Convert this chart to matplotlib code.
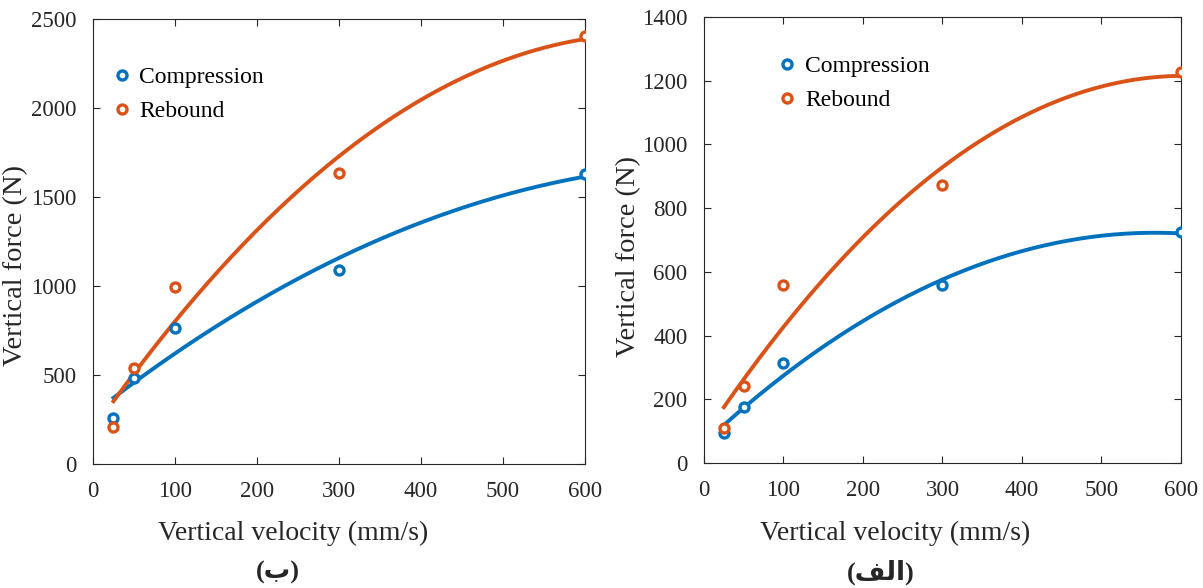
"""
Force-velocity characteristics of the damper: measured points and quadratic fits
"""
import matplotlib
matplotlib.use("Agg")
import matplotlib.pyplot as plt
import numpy as np

# measured data
velocity = [25, 50, 100, 300, 600]

# panel (ب)
comp_b = [257, 485, 764, 1088, 1628]
reb_b = [206, 538, 992, 1637, 2405]

# panel (الف)
comp_a = [93, 175, 313, 558, 724]
reb_a = [109, 243, 559, 872, 1226]

BLUE = "#0072BD"
ORANGE = "#D95319"
AXC = "#262626"

plt.rcParams["font.family"] = ["Liberation Serif", "DejaVu Sans"]


def panel(ax, comp, reb, ymax, ystep, leg_anchor, xlab_pos, ylab_pos):
    """Draw one panel: scatter points plus a 2nd order fit for each series"""
    xfit = np.linspace(min(velocity), max(velocity), 200)
    for vals, color, name in ((comp, BLUE, "Compression"), (reb, ORANGE, "Rebound")):
        coef = np.polyfit(velocity, vals, 2)
        ax.plot(xfit, np.polyval(coef, xfit), color=color, lw=2.8, zorder=2)
        ax.plot(velocity, vals, ls="none", marker="o", ms=6.5,
                mfc="white", mec=color, mew=2.4, label=name, zorder=3)

    ax.set_xlim(0, 600)
    ax.set_ylim(0, ymax)
    ax.set_xticks(np.arange(0, 601, 100))
    ax.set_yticks(np.arange(0, ymax + 1, ystep))
    ax.tick_params(direction="in", length=5, width=0.8, colors=AXC,
                   labelsize=16.5, top=True, right=True)
    ax.tick_params(axis="x", pad=12)
    ax.tick_params(axis="y", pad=12)
    for sp in ax.spines.values():
        sp.set_color(AXC)
        sp.set_linewidth(0.8)
    ax.set_xlabel("Vertical velocity (mm/s)", fontsize=20, color=AXC)
    ax.set_ylabel("Vertical force (N)", fontsize=20.5, color=AXC)
    ax.xaxis.set_label_coords(*xlab_pos)
    ax.yaxis.set_label_coords(*ylab_pos)
    ax.legend(loc="upper left", bbox_to_anchor=leg_anchor, frameon=False,
              fontsize=17, handletextpad=0.15, handlelength=1.2,
              labelspacing=0.55, borderaxespad=0)


fig = plt.figure(figsize=(12.03, 5.88), dpi=100)
ax_b = fig.add_axes([0.0773, 0.2109, 0.4090, 0.7568])
ax_a = fig.add_axes([0.5852, 0.2126, 0.3965, 0.7585])

panel(ax_b, comp_b, reb_b, 2500, 500, (0.01, 0.915), (0.407, -0.128), (-0.131, 0.447))
panel(ax_a, comp_a, reb_a, 1400, 200, (0.125, 0.935), (0.40, -0.13), (-0.131, 0.462))

fig.text(0.231, 0.027, "(ب)", ha="center", va="center", fontsize=19,
         fontweight="bold", color=AXC)
fig.text(0.732, 0.027, "(\ufed2\ufedf\u0627)", ha="center", va="center",
         fontsize=19, fontweight="bold", color=AXC)

fig.savefig("out.png", dpi=100)
